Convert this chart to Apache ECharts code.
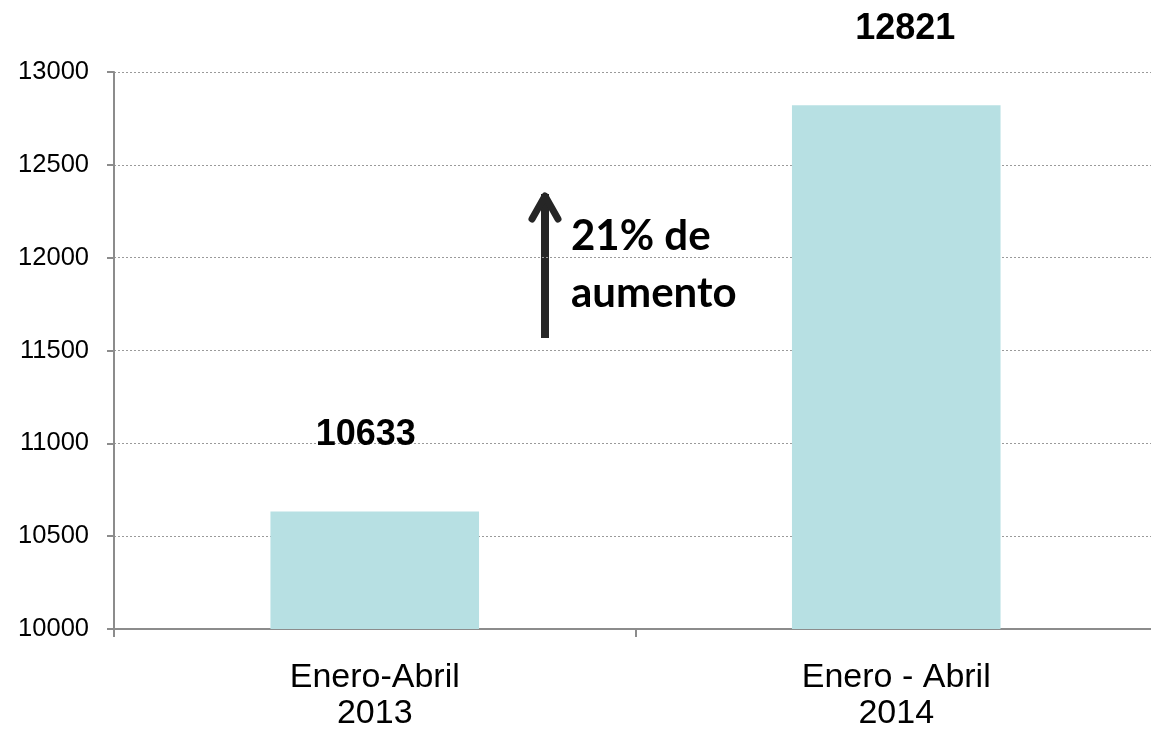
<!DOCTYPE html>
<html>
<head>
<meta charset="utf-8">
<script src="https://cdn.jsdelivr.net/npm/echarts@6/dist/echarts.min.js"></script>
<style>
html,body{margin:0;padding:0;background:#fff;}
#chart{width:1151px;height:733px;}
</style>
</head>
<body>
<div id="chart"></div>
<script>
const categories = ['Enero-Abril\n2013', 'Enero - Abril\n2014'];
const values = [10633, 12821];
const labelOffsets = [[-9, 0], [9, 0]];
const yMin = 10000, yMax = 13000, yStep = 500;
const annotationText = ['21% de', 'aumento'];

const chart = echarts.init(document.getElementById('chart'), null, {renderer: 'canvas'});
const option = {
  animation: false,
  backgroundColor: '#ffffff',
  grid: {left: 114, top: 72, width: 1043, height: 557, containLabel: false, outerBoundsMode: 'none'},
  xAxis: {
    type: 'category',
    data: categories,
    boundaryGap: true,
    axisLine: {show: true, lineStyle: {color: '#8c8c8c', width: 2}},
    axisTick: {show: true, length: 8, alignWithLabel: false, lineStyle: {color: '#8c8c8c', width: 2}},
    axisLabel: {
      color: '#000', fontFamily: 'Liberation Sans', fontSize: 34, lineHeight: 36, margin: 31
    },
    splitLine: {show: false}
  },
  yAxis: {
    type: 'value',
    min: yMin, max: yMax, interval: yStep,
    axisLine: {show: true, lineStyle: {color: '#8c8c8c', width: 2}},
    axisTick: {show: true, length: 7, inside: false, lineStyle: {color: '#8c8c8c', width: 2}},
    axisLabel: {color: '#000', fontFamily: 'Liberation Sans', fontSize: 25.5, margin: 25,
      formatter: v => String(v)},
    splitLine: {show: true, lineStyle: {color: '#9a9a9a', type: [2, 2], width: 1}}
  },
  series: [{
    type: 'bar',
    data: values.map((v, i) => ({
      value: v,
      label: {offset: labelOffsets[i]}
    })),
    barWidth: '40%',
    itemStyle: {color: '#b7e0e3'},
    label: {
      show: true, position: 'top', distance: 58,
      color: '#000', fontFamily: 'Liberation Sans', fontWeight: 'bold', fontSize: 36
    }
  }],
  graphic: [
    {type: 'line', shape: {x1: 545, y1: 338, x2: 545, y2: 194},
     style: {stroke: '#262626', lineWidth: 8, lineCap: 'butt'}},
    {type: 'polyline', shape: {points: [[532, 219], [545, 196], [558, 219]]},
     style: {stroke: '#262626', lineWidth: 7, lineCap: 'round', lineJoin: 'round', fill: null}},
    {type: 'text', left: 571, top: 215,
     style: {text: annotationText[0], font: 'bold 42px Lato', fill: '#000'}},
    {type: 'text', left: 571, top: 272,
     style: {text: annotationText[1], font: 'bold 42px Lato', fill: '#000'}}
  ]
};
chart.setOption(option);
</script>
</body>
</html>
